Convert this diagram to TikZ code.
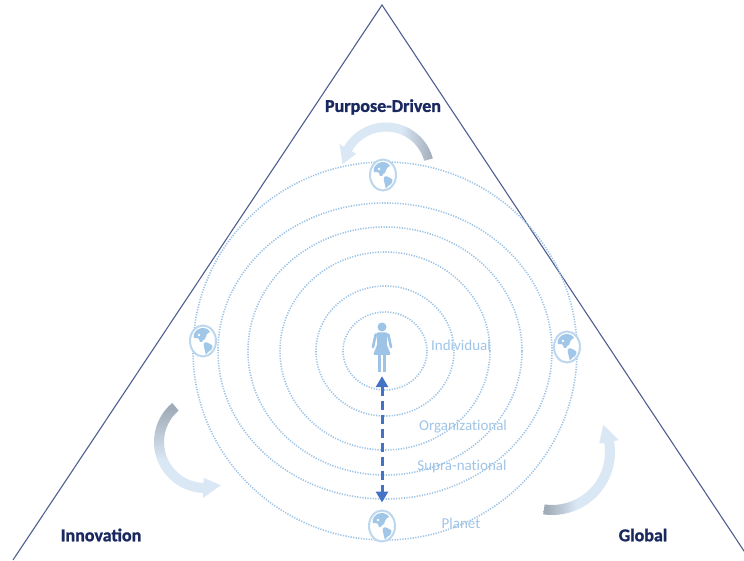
\documentclass[tikz,border=0pt]{standalone}
\usepackage{fontspec}
\setmainfont{Carlito}[Ligatures=NoCommon]
\newfontfamily\titlefont{Carlito}[BoldFeatures={FakeBold=1.2}]
\usetikzlibrary{shapes.geometric,arrows.meta,calc}
\definecolor{tric}{RGB}{80,95,145}
\definecolor{navyc}{RGB}{25,40,95}
\definecolor{ringc}{RGB}{157,195,230}
\definecolor{lblc}{RGB}{160,197,232}
\definecolor{globec}{RGB}{189,215,238}
\definecolor{contc}{RGB}{160,198,232}
\definecolor{arrlb}{RGB}{218,231,244}
\definecolor{arrgr}{RGB}{160,172,184}
\definecolor{dashc}{RGB}{68,114,196}
\definecolor{personc}{RGB}{157,195,230}
\pgfdeclarehorizontalshading{topsh}{100bp}{color(0bp)=(arrlb); color(25bp)=(arrlb); color(58bp)=(arrlb); color(75bp)=(arrgr); color(100bp)=(arrgr)}
\pgfdeclareverticalshading{leftsh}{100bp}{color(0bp)=(arrlb); color(25bp)=(arrlb); color(45bp)=(arrlb); color(72bp)=(arrgr); color(100bp)=(arrgr)}
\pgfdeclarehorizontalshading{rightsh}{100bp}{color(0bp)=(arrgr); color(27bp)=(arrgr); color(47bp)=(arrlb); color(100bp)=(arrlb)}
\newcommand\arcarrow[8]{%
  \shade[#8] ($(#1)+({#3}:{#2+#6})$) arc[start angle=#3, end angle=#4, radius=#2+#6]
   -- ($(#1)+({#4}:{#2+#7})$) -- ($(#1)+({#5}:{#2})$) -- ($(#1)+({#4}:{#2-#7})$)
   -- ($(#1)+({#4}:{#2-#6})$) arc[start angle=#4, end angle=#3, radius=#2-#6] -- cycle;}
\tikzset{
  triline/.style={draw=tric, line width=1.1pt},
  ring/.style={draw=ringc, line width=1.6pt, dash pattern=on 1.2pt off 1.4pt},
  title/.style={font=\titlefont\bfseries\fontsize{18}{21}\selectfont, text=navyc, inner sep=0},
  lvl/.style={font=\fontsize{15}{18}\selectfont, text=lblc, inner sep=0},
  globe/.style={ellipse, draw=globec, fill=white, line width=2pt, minimum width=26, minimum height=31, inner sep=0},
  personbox/.style={minimum width=20, minimum height=50, inner sep=0},
  dasharrow/.style={draw=dashc, line width=3pt, dash pattern=on 9pt off 5pt,
     {Triangle[width=12pt,length=11pt]}-{Triangle[width=12pt,length=11pt]}},
  continents/.pic={
    \fill[contc] plot[smooth cycle, tension=0.5] coordinates {(-9,7) (-6,11) (-1,13) (4,12) (7,9) (5,8) (3,5) (2,2) (0,1) (-1,-1) (-3,-1) (-4,2) (-6,3) (-9,3)};
    \fill[contc] plot[smooth cycle, tension=0.5] coordinates {(1,-2) (4,-1.5) (7,-3) (9.5,-5) (8,-9) (5,-11) (3,-13.5) (2,-10) (1,-6)};
    \fill[white] (-4,6) circle (1.3);
  },
  woman/.pic={
    \fill[personc] (0,20) circle (4.5);
    \fill[personc, rounded corners=1.5] (-6,14.5) -- (6,14.5) -- (4.5,3) -- (9,-8) -- (-9,-8) -- (-4.5,3) -- cycle;
    \draw[personc, line width=2.6pt, line cap=round] (-6.3,12.5) -- (-9,0);
    \draw[personc, line width=2.6pt, line cap=round] (6.3,12.5) -- (9,0);
    \fill[personc] (-4,-8) rectangle (-1,-25);
    \fill[personc] (1,-8) rectangle (4,-25);
  }
}
\begin{document}
\begin{tikzpicture}[x=1pt,y=1pt]
\useasboundingbox (0,0) rectangle (744,560);
\clip (0,0) rectangle (744,560);
\fill[white] (0,0) rectangle (744,560);
% triangle
\draw[triline] (13,0) -- (382,555) -- (750,0);
% rings
\coordinate (c) at (385,209);
\foreach \rx/\ry in {42/39, 69/65, 105/99, 137/124, 167/148, 192/189}{
  \draw[ring] (c) ellipse ({\rx} and {\ry});
}
% curved arrows
\coordinate (ca) at (386,389);
\coordinate (cl) at (205,118);
\coordinate (cr) at (552,108);
\arcarrow{ca}{44}{15}{150}{171}{4.5}{9.5}{shading=topsh}
\arcarrow{cl}{46}{130}{268}{290}{5}{10}{shading=leftsh}
\arcarrow{cr}{58}{262}{370}{388}{5}{10}{shading=rightsh}
% globes
\node[globe] (gtop) at (383,385) {};
\node[globe] (gleft) at (203,219) {};
\node[globe] (gright) at (567,213) {};
\node[globe] (gbot) at (382,34) {};
\foreach \g in {gtop,gleft,gright,gbot}{ \pic at (\g) {continents}; }
% person
\node[personbox] (person) at (382,213) {};
\pic at (person) {woman};
% dashed arrow
\draw[dasharrow, shorten <=4pt, shorten >=7pt] (person.south) -- (gbot.north);
% labels
\node[title] (tpd) at (383,453) {Purpose-Driven};
\node[title] (tin) at (101,25) {Innovation};
\node[title] (tgl) at (643,25) {Global};
\node[lvl] (lind) at (461,215) {Individual};
\node[lvl] (lorg) at (463,133) {Organizational};
\node[lvl] (lsup) at (462,93) {Supra-national};
\node[lvl] (lpla) at (461,37) {Planet};
\end{tikzpicture}
\end{document}
